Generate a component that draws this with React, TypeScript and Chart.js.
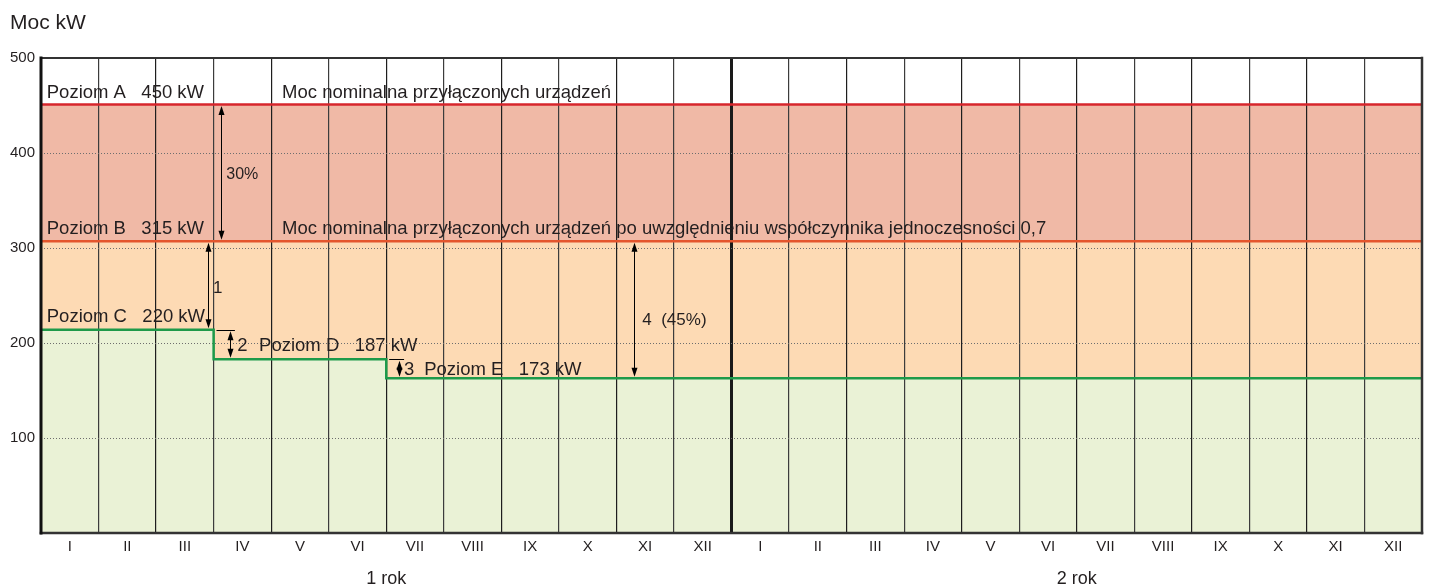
import React, { useEffect, useRef } from 'react';
import { Chart, registerables } from 'chart.js';

Chart.register(...registerables);

const FONT = '"Liberation Sans", Arial, Helvetica, sans-serif';

// ---- data ----
const MONTHS = ['I', 'II', 'III', 'IV', 'V', 'VI', 'VII', 'VIII', 'IX', 'X', 'XI', 'XII',
  'I', 'II', 'III', 'IV', 'V', 'VI', 'VII', 'VIII', 'IX', 'X', 'XI', 'XII'];
const YEARS = ['1 rok', '2 rok'];
const Y_TICKS = [0, 100, 200, 300, 400, 500];
const LEVEL_A = 451; // Poziom A (drawn)
const LEVEL_B = 307; // Poziom B (drawn)
const GREEN_LEVELS = [214, 214, 214, 183, 183, 183, 163, 163, 163, 163, 163, 163,
  163, 163, 163, 163, 163, 163, 163, 163, 163, 163, 163, 163];

// ---- annotation texts (x in months, y in kW) ----
const TEXTS = [
  { t: 'Poziom A   450 kW', m: 0.1, v: 458, size: 18.5 },
  { t: 'Moc nominalna przyłączonych urządzeń', m: 4.19, v: 458, size: 18.5 },
  { t: 'Poziom B   315 kW', m: 0.1, v: 315, size: 18.5 },
  { t: 'Moc nominalna przyłączonych urządzeń po uwzględnieniu współczynnika jednoczesności 0,7', m: 4.19, v: 315, size: 18.5 },
  { t: 'Poziom C   220 kW', m: 0.1, v: 222, size: 18.5 },
  { t: '2', m: 3.41, v: 192, size: 18.5 },
  { t: 'Poziom D   187 kW', m: 3.79, v: 192, size: 18.5 },
  { t: '3', m: 6.31, v: 166, size: 18.5 },
  { t: 'Poziom E   173 kW', m: 6.66, v: 166, size: 18.5 },
  { t: '30%', m: 3.22, v: 373, size: 16 },
  { t: '1', m: 2.99, v: 253, size: 17 },
  { t: '4  (45%)', m: 10.45, v: 219, size: 17 },
];
const ARROWS = [
  { m: 3.13, from: LEVEL_A, to: LEVEL_B },
  { m: 2.90, from: LEVEL_B, to: 214 },
  { m: 3.29, from: 214, to: 183, tick: [3.05, 3.37] },
  { m: 6.23, from: 183, to: 163, tick: [6.05, 6.31] },
  { m: 10.3, from: LEVEL_B, to: 163 },
];

function flatLine(v: number) {
  return [{ x: 0, y: v }, { x: 24, y: v }];
}
function stepLine(levels: number[]) {
  const pts: { x: number; y: number }[] = [];
  levels.forEach((v, i) => {
    pts.push({ x: i, y: v });
    pts.push({ x: i + 1, y: v });
  });
  return pts;
}

function arrowHead(ctx: CanvasRenderingContext2D, x: number, y: number, dir: number) {
  const len = 9, hw = 3;
  ctx.beginPath();
  ctx.moveTo(x, y);
  ctx.lineTo(x - hw, y - dir * len);
  ctx.lineTo(x + hw, y - dir * len);
  ctx.closePath();
  ctx.fill();
}

const framePlugin = {
  id: 'frameAndNotes',
  afterDatasetsDraw(chart: any) {
    const { ctx, chartArea: a, scales } = chart;
    const xs = scales.x, ys = scales.y;
    ctx.save();
    // frame
    ctx.lineCap = 'square';
    ctx.strokeStyle = '#333'; ctx.lineWidth = 2;
    ctx.beginPath(); ctx.moveTo(a.left, a.top); ctx.lineTo(a.right, a.top); ctx.stroke();
    ctx.strokeStyle = '#333'; ctx.lineWidth = 2.5;
    ctx.beginPath(); ctx.moveTo(a.left, a.bottom); ctx.lineTo(a.right, a.bottom); ctx.stroke();
    ctx.strokeStyle = '#111'; ctx.lineWidth = 3;
    ctx.beginPath(); ctx.moveTo(a.left, a.top); ctx.lineTo(a.left, a.bottom); ctx.stroke();
    ctx.strokeStyle = '#333'; ctx.lineWidth = 2.5;
    ctx.beginPath(); ctx.moveTo(a.right, a.top); ctx.lineTo(a.right, a.bottom); ctx.stroke();

    // arrows
    ctx.strokeStyle = '#000'; ctx.fillStyle = '#000'; ctx.lineWidth = 1; ctx.lineCap = 'butt';
    ARROWS.forEach((ar: any) => {
      const x = Math.round(xs.getPixelForValue(ar.m)) + 0.5;
      const y1 = ys.getPixelForValue(ar.from) + 1.5;
      const y2 = ys.getPixelForValue(ar.to) - 1.5;
      ctx.beginPath(); ctx.moveTo(x, y1 + 6); ctx.lineTo(x, y2 - 6); ctx.stroke();
      arrowHead(ctx, x, y1, -1);
      arrowHead(ctx, x, y2, 1);
      if (ar.tick) {
        const ty = Math.round(ys.getPixelForValue(ar.from)) + 0.5;
        ctx.beginPath();
        ctx.moveTo(xs.getPixelForValue(ar.tick[0]), ty);
        ctx.lineTo(xs.getPixelForValue(ar.tick[1]), ty);
        ctx.stroke();
      }
    });

    // texts
    ctx.fillStyle = '#231f20';
    ctx.textBaseline = 'alphabetic';
    ctx.textAlign = 'left';
    TEXTS.forEach((t) => {
      ctx.font = `${t.size}px ${FONT}`;
      ctx.fillText(t.t, xs.getPixelForValue(t.m), ys.getPixelForValue(t.v));
    });

    // axis title
    ctx.font = `21px ${FONT}`;
    ctx.fillText('Moc kW', 10, 29);
    ctx.restore();
  },
};

export default function App() {
  const ref = useRef<HTMLCanvasElement>(null);
  useEffect(() => {
    Chart.defaults.font.family = FONT;
    const chart = new Chart(ref.current as HTMLCanvasElement, {
      type: 'line',
      data: {
        datasets: [
          {
            label: 'Poziom C/D/E',
            data: stepLine(GREEN_LEVELS),
            borderColor: '#1e9a4a',
            borderWidth: 2.5,
            backgroundColor: '#eaf2d6',
            fill: 'origin',
            pointRadius: 0,
          },
          {
            label: 'Poziom B',
            data: flatLine(LEVEL_B),
            borderColor: '#e4552d',
            borderWidth: 2.5,
            backgroundColor: '#fddab4',
            fill: 'origin',
            pointRadius: 0,
          },
          {
            label: 'Poziom A',
            data: flatLine(LEVEL_A),
            borderColor: '#d7262c',
            borderWidth: 2.5,
            backgroundColor: '#f0b9a6',
            fill: 'origin',
            pointRadius: 0,
          },
        ],
      },
      options: {
        animation: false,
        responsive: true,
        maintainAspectRatio: false,
        layout: { padding: { top: 58, right: 8, left: 0, bottom: 0 } },
        plugins: {
          legend: { display: false },
          tooltip: { enabled: false },
          filler: { drawTime: 'beforeDraw' },
        } as any,
        scales: {
          x: {
            type: 'linear',
            min: 0,
            max: 24,
            weight: 0,
            afterBuildTicks: (s: any) => {
              const t = [];
              for (let k = 0; k <= 48; k++) t.push({ value: k / 2 });
              s.ticks = t;
            },
            afterFit: (s: any) => { s.height = 27; },
            ticks: {
              autoSkip: false,
              maxRotation: 0,
              padding: 5,
              color: '#231f20',
              font: { size: 15 },
              callback: (v: any) => (Number.isInteger(v) ? '' : MONTHS[Math.floor(v)]),
            },
            grid: {
              drawTicks: false,
              color: (c: any) => {
                const v = c.tick ? c.tick.value : 0;
                if (!Number.isInteger(v) || v === 0 || v === 24) return 'rgba(0,0,0,0)';
                if (v === 12) return '#1a1a1a';
                return v % 2 ? '#3c3c3c' : '#1e1e1e';
              },
              lineWidth: (c: any) => (c.tick && c.tick.value === 12 ? 3 : 1.2),
            },
            border: { display: false },
          },
          x2: {
            type: 'category',
            labels: YEARS,
            min: 0,
            max: 1,
            position: 'bottom',
            offset: true,
            weight: 1,
            afterFit: (s: any) => { s.height = 28; },
            grid: { display: false, drawTicks: false },
            border: { display: false },
            ticks: { padding: 8, color: '#231f20', font: { size: 18 } },
          },
          y: {
            min: 0,
            max: 500,
            afterBuildTicks: (s: any) => { s.ticks = Y_TICKS.map((v) => ({ value: v })); },
            afterFit: (s: any) => { s.width = 41; },
            ticks: {
              padding: 6,
              color: '#231f20',
              font: { size: 15 },
              callback: (v: any) => (v === 0 ? '' : String(v)),
            },
            grid: {
              drawTicks: false,
              color: (c: any) => {
                const v = c.tick ? c.tick.value : 0;
                return v === 0 || v === 500 ? 'rgba(0,0,0,0)' : '#6e6e6e';
              },
              lineWidth: 1,
            },
            border: { display: false, dash: [1, 2] },
          },
        } as any,
      },
      plugins: [framePlugin],
    } as any);
    return () => chart.destroy();
  }, []);
  return (
    <div style={{ position: 'fixed', left: 0, top: 0, width: 1430, height: 588, background: '#fff' }}>
      <canvas ref={ref} />
    </div>
  );
}
